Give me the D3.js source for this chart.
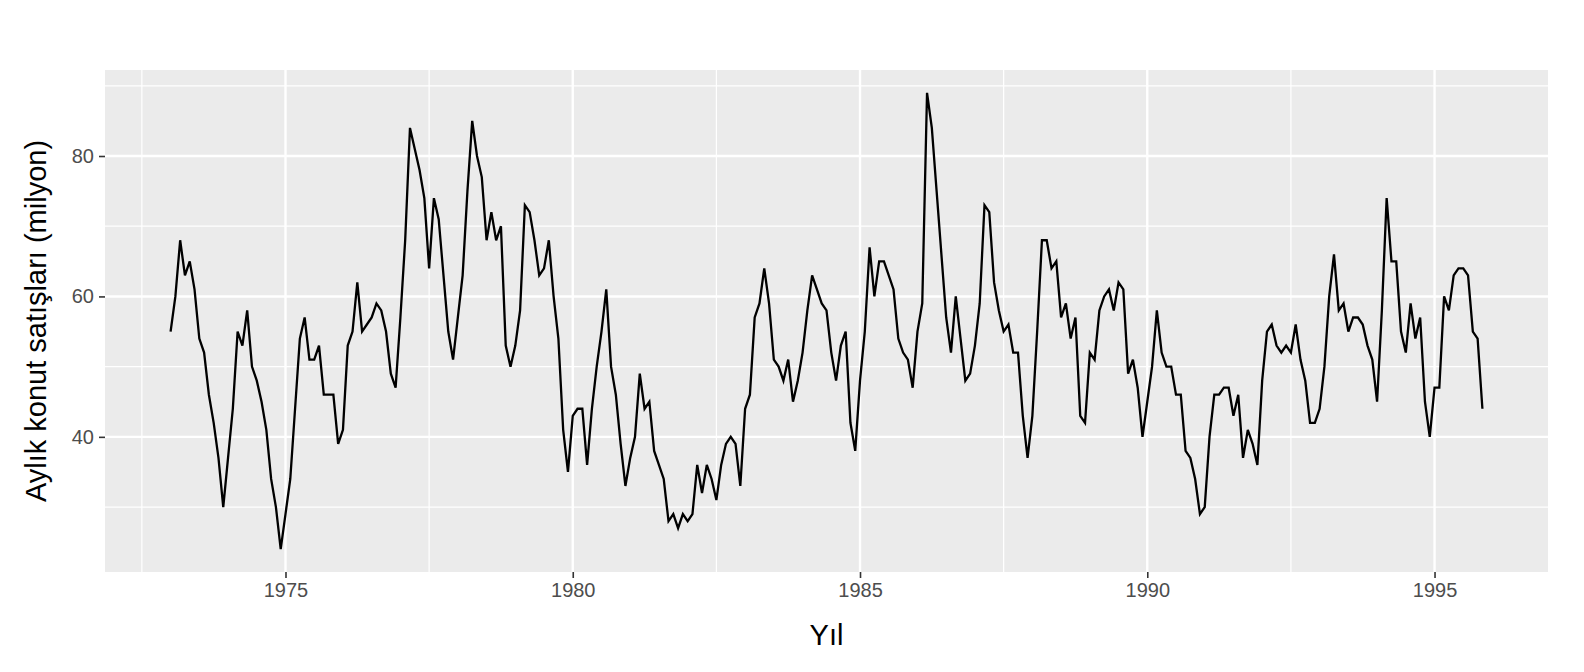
<!DOCTYPE html>
<html><head><meta charset="utf-8">
<script src="https://cdn.jsdelivr.net/npm/d3@7"></script>
<style>body{margin:0;background:#fff}</style>
</head><body>
<svg id="chart" width="1584" height="672"></svg>
<script>
// Aylık konut satışları, Ocak 1973 - Kasım 1995
const startYear = 1973;
const sales = [
  55,60,68,63,65,61,54,52,46,42,37,30,
  37,44,55,53,58,50,48,45,41,34,30,24,
  29,34,44,54,57,51,51,53,46,46,46,39,
  41,53,55,62,55,56,57,59,58,55,49,47,
  57,68,84,81,78,74,64,74,71,63,55,51,
  57,63,75,85,80,77,68,72,68,70,53,50,
  53,58,73,72,68,63,64,68,60,54,41,35,
  43,44,44,36,44,50,55,61,50,46,39,33,
  37,40,49,44,45,38,36,34,28,29,27,29,
  28,29,36,32,36,34,31,36,39,40,39,33,
  44,46,57,59,64,59,51,50,48,51,45,48,
  52,58,63,61,59,58,52,48,53,55,42,38,
  48,55,67,60,65,65,63,61,54,52,51,47,
  55,59,89,84,75,66,57,52,60,54,48,49,
  53,59,73,72,62,58,55,56,52,52,43,37,
  43,55,68,68,64,65,57,59,54,57,43,42,
  52,51,58,60,61,58,62,61,49,51,47,40,
  45,50,58,52,50,50,46,46,38,37,34,29,
  30,40,46,46,47,47,43,46,37,41,39,36,
  48,55,56,53,52,53,52,56,51,48,42,42,
  44,50,60,66,58,59,55,57,57,56,53,51,
  45,58,74,65,65,55,52,59,54,57,45,40,
  47,47,60,58,63,64,64,63,55,54,44
];
const xTicks = [1975, 1980, 1985, 1990, 1995];
const xMinor = [1972.5, 1977.5, 1982.5, 1987.5, 1992.5];
const yTicks = [40, 60, 80];
const yMinor = [30, 50, 70, 90];

const dados = sales.map((v, i) => ({t: startYear + i / 12, v: v}));

const svg = d3.select("#chart");
const margin = {top: 70, right: 36, bottom: 100, left: 105};
const W = 1584 - margin.left - margin.right, H = 672 - margin.top - margin.bottom;

const [t0, t1] = d3.extent(dados, d => d.t), [v0, v1] = d3.extent(dados, d => d.v);
const ex = (t1 - t0) * 0.05, ey = (v1 - v0) * 0.05;
const x = d3.scaleLinear().domain([t0 - ex, t1 + ex]).range([0, W]);
const y = d3.scaleLinear().domain([v0 - ey, v1 + ey]).range([H, 0]);

const g = svg.append("g").attr("transform", `translate(${margin.left},${margin.top})`);
g.append("rect").attr("width", W).attr("height", H).attr("fill", "#ebebeb");

g.selectAll(".xm").data(xMinor).enter().append("line")
  .attr("x1", d => x(d)).attr("x2", d => x(d)).attr("y1", 0).attr("y2", H)
  .attr("stroke", "#fff").attr("stroke-width", 1.2);
g.selectAll(".ym").data(yMinor).enter().append("line")
  .attr("y1", d => y(d)).attr("y2", d => y(d)).attr("x1", 0).attr("x2", W)
  .attr("stroke", "#fff").attr("stroke-width", 1.2);
g.selectAll(".xg").data(xTicks).enter().append("line")
  .attr("x1", d => x(d)).attr("x2", d => x(d)).attr("y1", 0).attr("y2", H)
  .attr("stroke", "#fff").attr("stroke-width", 2.4);
g.selectAll(".yg").data(yTicks).enter().append("line")
  .attr("y1", d => y(d)).attr("y2", d => y(d)).attr("x1", 0).attr("x2", W)
  .attr("stroke", "#fff").attr("stroke-width", 2.4);

g.append("path").datum(dados)
  .attr("d", d3.line().x(d => x(d.t)).y(d => y(d.v)))
  .attr("fill", "none").attr("stroke", "#000").attr("stroke-width", 2.3);

const xAxis = g.append("g").attr("transform", `translate(0,${H})`)
  .call(d3.axisBottom(x).tickValues(xTicks).tickFormat(d3.format("d")).tickSize(6).tickPadding(5));
const yAxis = g.append("g")
  .call(d3.axisLeft(y).tickValues(yTicks).tickSize(6).tickPadding(5));
[xAxis, yAxis].forEach(a => {
  a.select(".domain").remove();
  a.selectAll("line").attr("stroke", "#333").attr("stroke-width", 1.6);
  a.selectAll("text").attr("fill", "#4d4d4d").attr("font-size", 20)
    .attr("font-family", "Liberation Sans, Arial, sans-serif");
});

svg.append("text").attr("x", margin.left + W / 2).attr("y", 645)
  .attr("text-anchor", "middle").attr("font-size", 29)
  .attr("font-family", "Liberation Sans, Arial, sans-serif").text("Yıl");
svg.append("text")
  .attr("transform", `translate(46,${margin.top + H / 2}) rotate(-90)`)
  .attr("text-anchor", "middle").attr("font-size", 29)
  .attr("font-family", "Liberation Sans, Arial, sans-serif").text("Aylık konut satışları (milyon)");
</script>
</body></html>
